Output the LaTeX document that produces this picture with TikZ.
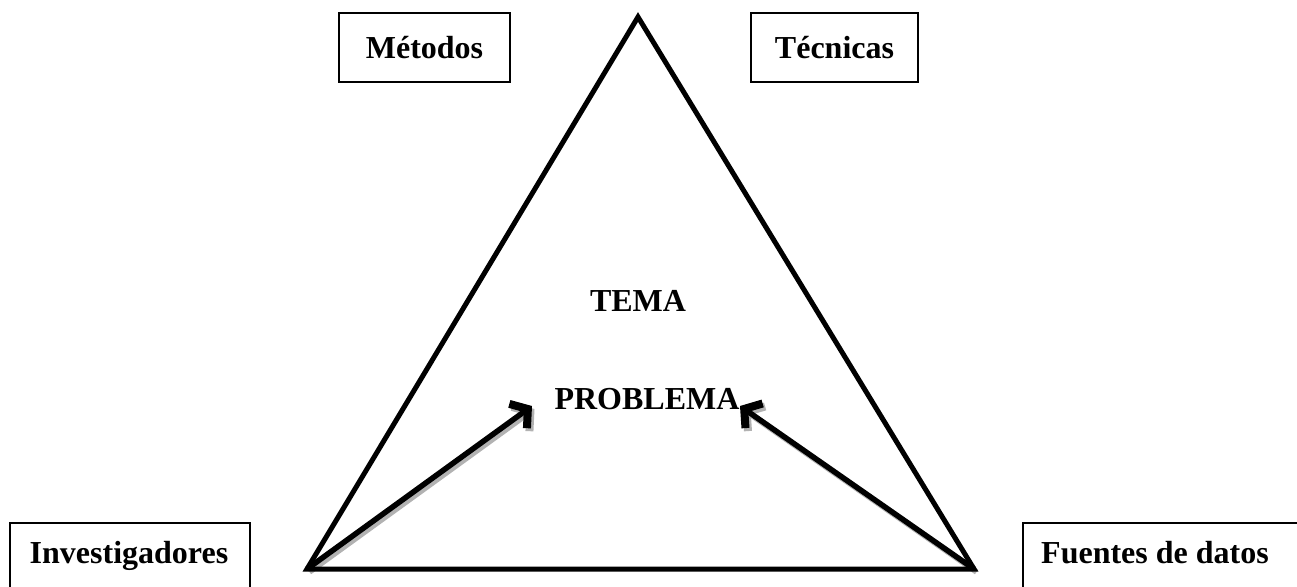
\documentclass[tikz,border=0pt]{standalone}
\usepackage{fontspec}
\setmainfont{Liberation Serif}
\usetikzlibrary{arrows.meta}
\tikzset{
	box/.style={draw, line width=1.3pt, inner sep=0pt, font=\fontsize{32}{38}\selectfont\bfseries},
	word/.style={font=\fontsize{32}{38}\selectfont\bfseries},
	side/.style={line width=5pt},
	pointer/.style={line width=5.5pt, -{Straight Barb[length=12pt, width=30pt, line width=8pt]}},
	shade/.style={pointer, draw=gray!60, transform canvas={shift={(2.5pt,-3pt)}}}
}
\begin{document}
\begin{tikzpicture}[x=1pt, y=-1pt]
		\useasboundingbox (0, 0) rectangle (1297, 586);
		% boxes
		\node[box, minimum width=171pt, minimum height=69pt] (M) at (424.5, 47.5) {Métodos};
		\node[box, minimum width=167pt, minimum height=69pt] (T) at (834.5, 47.5) {Técnicas};
		\draw[line width=1.3pt] (10, 640) |- (250, 523) -- (250, 640);
		\node[word, anchor=base] (I) at (129, 563) {Investigadores};
		\draw[line width=1.3pt] (1023, 640) |- (1340, 523);
		\node[word, anchor=base] (F) at (1155, 563) {Fuentes de datos};
		% triangle
		\coordinate (A) at (638, 17);
		\coordinate (L) at (307, 569);
		\coordinate (R) at (974, 569);
		\node[word, anchor=base] (TE) at (638, 311) {TEMA};
		\node[word, anchor=base] (P) at (647, 409) {PROBLEMA};
		\coordinate (PL) at (532, 406);
		\coordinate (PR) at (740, 406);
		\draw[shade] (L) -- (PL);
		\draw[shade] (R) -- (PR);
		\draw[pointer] (L) -- (PL);
		\draw[pointer] (R) -- (PR);
		\draw[side] (L) -- (A) -- (R) -- cycle;
	\end{tikzpicture}
\end{document}
